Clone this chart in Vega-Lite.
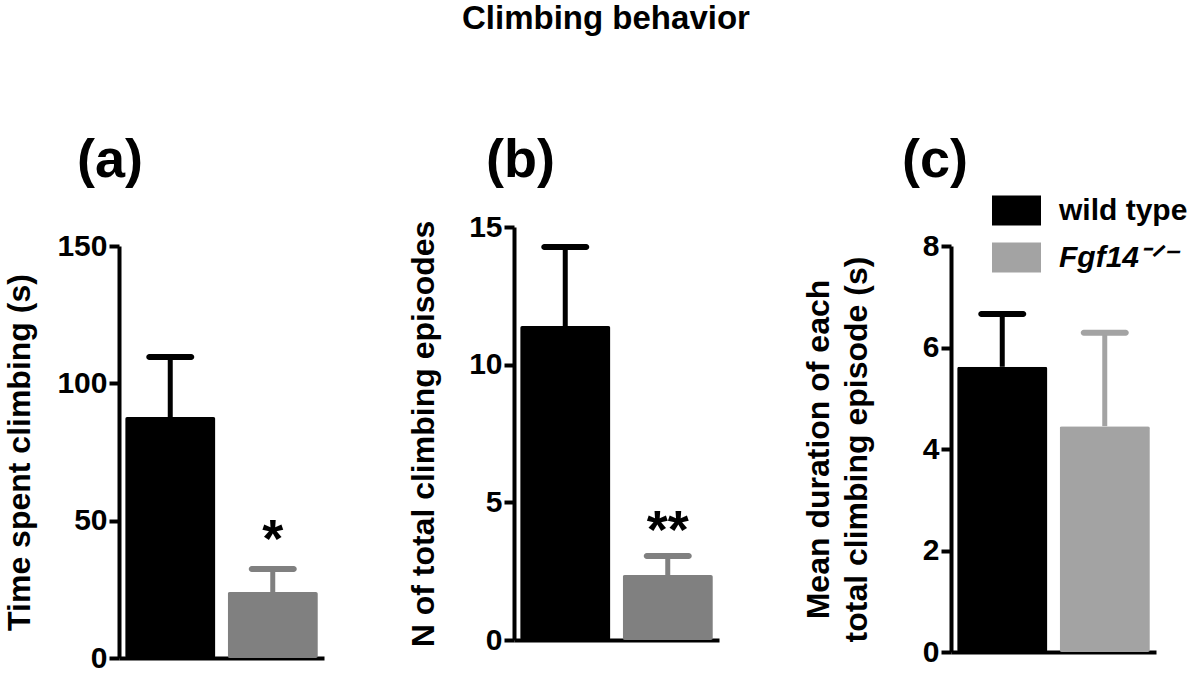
{
  "$schema": "https://vega.github.io/schema/vega-lite/v6.json",
  "background": "white",
  "padding": {"left": 3, "top": 3, "right": 0, "bottom": 0},
  "title": {"text": "Climbing behavior", "fontSize": 33, "fontWeight": "bold", "color": "black", "anchor": "middle", "offset": 98, "dx": 10},
  "data": {"values": [
    {"panel": "a", "group": "wild type", "mean": 87.7, "hi": 109.6, "sig": ""},
    {"panel": "a", "group": "Fgf14", "mean": 24.0, "hi": 32.4, "sig": "*"},
    {"panel": "b", "group": "wild type", "mean": 11.4, "hi": 14.27, "sig": ""},
    {"panel": "b", "group": "Fgf14", "mean": 2.36, "hi": 3.05, "sig": "**"},
    {"panel": "c", "group": "wild type", "mean": 5.62, "hi": 6.66, "sig": ""},
    {"panel": "c", "group": "Fgf14", "mean": 4.45, "hi": 6.29, "sig": ""}
  ]},
  "spacing": 83,
  "resolve": {"scale": {"color": "independent", "y": "independent", "x": "independent"}, "legend": {"color": "independent"}},
  "hconcat": [
    {"vconcat": [
      {"width": 205, "height": 39, "data": {"values": []}, "mark": "point",
       "title": {"text": "(a)", "anchor": "start", "frame": "group", "dx": -42, "offset": 19, "fontSize": 54, "fontWeight": "bold", "color": "black"}},
      {
      "width": 205, "height": 412,
      "transform": [{"filter": "datum.panel == 'a'"}],
      "encoding": {
        "x": {"field": "group", "type": "nominal", "sort": ["wild type", "Fgf14"], "scale": {"paddingInner": 0.12, "paddingOuter": 0.06}, "axis": {"labels": false, "ticks": false, "title": null}},
        "color": {"field": "group", "type": "nominal", "scale": {"domain": ["wild type", "Fgf14"], "range": ["#000000", "#808080"]}, "legend": null}
      },
      "layer": [
        {"mark": {"type": "bar", "cornerRadius": 2}, "encoding": {"y": {"field": "mean", "type": "quantitative", "scale": {"domain": [0, 150], "nice": false}, "axis": {"values": [0, 50, 100, 150], "title": "Time spent climbing (s)", "titlePadding": 20}}}},
        {"mark": {"type": "rule", "strokeWidth": 5}, "encoding": {"y": {"field": "mean", "type": "quantitative"}, "y2": {"field": "hi"}}},
        {"mark": {"type": "tick", "size": 48, "thickness": 6, "cornerRadius": 3, "opacity": 1}, "encoding": {"y": {"field": "hi", "type": "quantitative"}}},
        {"mark": {"type": "text", "fontSize": 54, "fontWeight": "bold", "baseline": "alphabetic", "dy": -12, "color": "black"}, "encoding": {"y": {"field": "hi", "type": "quantitative"}, "text": {"field": "sig"}, "color": {"value": "black"}}}
      ]
    }], "spacing": 0, "bounds": "flush"},
    {"vconcat": [
      {"width": 205, "height": 20, "data": {"values": []}, "mark": "point",
       "title": {"text": "(b)", "anchor": "start", "frame": "group", "dx": -28, "offset": 19, "fontSize": 54, "fontWeight": "bold", "color": "black"}},
      {
      "width": 205, "height": 413,
      "transform": [{"filter": "datum.panel == 'b'"}],
      "encoding": {
        "x": {"field": "group", "type": "nominal", "sort": ["wild type", "Fgf14"], "scale": {"paddingInner": 0.12, "paddingOuter": 0.06}, "axis": {"labels": false, "ticks": false, "title": null}},
        "color": {"field": "group", "type": "nominal", "scale": {"domain": ["wild type", "Fgf14"], "range": ["#000000", "#808080"]}, "legend": null}
      },
      "layer": [
        {"mark": {"type": "bar", "cornerRadius": 2}, "encoding": {"y": {"field": "mean", "type": "quantitative", "scale": {"domain": [0, 15], "nice": false}, "axis": {"values": [0, 5, 10, 15], "title": "N of total climbing  episodes", "titlePadding": 28}}}},
        {"mark": {"type": "rule", "strokeWidth": 5}, "encoding": {"y": {"field": "mean", "type": "quantitative"}, "y2": {"field": "hi"}}},
        {"mark": {"type": "tick", "size": 48, "thickness": 6, "cornerRadius": 3, "opacity": 1}, "encoding": {"y": {"field": "hi", "type": "quantitative"}}},
        {"mark": {"type": "text", "fontSize": 54, "fontWeight": "bold", "baseline": "alphabetic", "dy": -8, "color": "black"}, "encoding": {"y": {"field": "hi", "type": "quantitative"}, "text": {"field": "sig"}, "color": {"value": "black"}}}
      ]
    }], "spacing": 0, "bounds": "flush"},
    {"vconcat": [
      {"width": 205, "height": 39, "data": {"values": []}, "mark": "point",
       "title": {"text": "(c)", "anchor": "start", "frame": "group", "dx": -49, "offset": 19, "fontSize": 54, "fontWeight": "bold", "color": "black"}},
      {
      "width": 205, "height": 406,
      "transform": [{"filter": "datum.panel == 'c'"}],
      "encoding": {
        "x": {"field": "group", "type": "nominal", "sort": ["wild type", "Fgf14"], "scale": {"paddingInner": 0.12, "paddingOuter": 0.06}, "axis": {"labels": false, "ticks": false, "title": null}},
        "color": {"field": "group", "type": "nominal", "sort": ["wild type", "Fgf14"], "scale": {"domain": ["wild type", "Fgf14"], "range": ["#000000", "#a3a3a3"]},
          "legend": {"orient": "none", "legendX": 41, "legendY": -21, "title": null, "padding": 0,
            "symbolType": "M-1,-0.61H1V0.61H-1Z", "symbolSize": 2401, "symbolStrokeWidth": 0, "symbolOpacity": 1,
            "labelFontSize": 30, "labelFontWeight": "bold", "labelColor": "black", "labelOffset": 18, "rowPadding": 7,
            "labelExpr": "datum.label == 'Fgf14' ? 'Fgf14⁻ᐟ⁻' : datum.label",
            "encode": {"labels": {"update": {"fontStyle": {"signal": "datum.value == 'Fgf14' ? 'italic' : 'normal'"}}}}}}
      },
      "layer": [
        {"mark": {"type": "bar", "cornerRadius": 2}, "encoding": {"y": {"field": "mean", "type": "quantitative", "scale": {"domain": [0, 8], "nice": false}, "axis": {"values": [0, 2, 4, 6, 8], "title": ["Mean duration of each", "total climbing episode (s)"], "titlePadding": 49, "titleLineHeight": 38}}}},
        {"mark": {"type": "rule", "strokeWidth": 5}, "encoding": {"y": {"field": "mean", "type": "quantitative"}, "y2": {"field": "hi"}}},
        {"mark": {"type": "tick", "size": 48, "thickness": 6, "cornerRadius": 3, "opacity": 1}, "encoding": {"y": {"field": "hi", "type": "quantitative"}}}
      ]
    }], "spacing": 0, "bounds": "flush"}
  ],
  "config": {
    "font": "Liberation Sans",
    "view": {"stroke": null},
    "axis": {"domainColor": "black", "domainWidth": 4, "tickColor": "black", "tickWidth": 4, "tickSize": 10, "labelFontSize": 30, "labelFontWeight": "bold", "labelColor": "black", "labelPadding": 2, "titleFontSize": 32, "titleFontWeight": "bold", "titleColor": "black", "grid": false}
  }
}
